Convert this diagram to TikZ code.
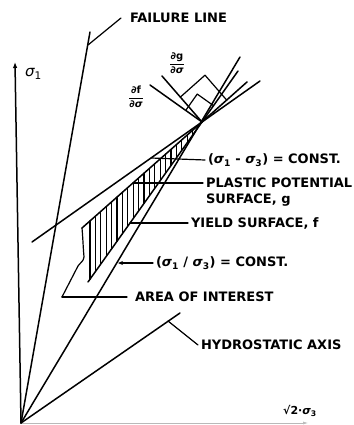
\documentclass[tikz,border=0pt]{standalone}
\usepackage{amsmath}
\usepackage{fontspec}
\setmainfont{DejaVu Sans}
\usetikzlibrary{calc,arrows.meta}
\newcommand{\sgm}{{\itshape σ}}

\begin{document}
\begin{tikzpicture}[x=1pt, y=-1pt, line cap=round, line join=round,
  curve/.style={line width=1.5pt},
  leader/.style={line width=1.2pt},
  hatch/.style={line width=1.2pt},
  lbltext/.style={font=\bfseries\fontsize{13}{15}\selectfont, anchor=west, inner sep=0pt, outer sep=3pt}]

  \useasboundingbox (0,0) rectangle (353,425);

  \coordinate (O) at (21,423);
  \coordinate (apex) at (202,122);

  % Axes
  \draw[curve, -{Latex[length=6pt,width=4.5pt]}] (O) -- (15,62) coordinate (s1top);
  \draw[gray!55, line width=0.6pt, -{Latex[length=5pt,width=3pt]}] (O) -- (308,423) coordinate (s3end);
  \node[font=\fontsize{15}{17}\selectfont, anchor=west, inner sep=0pt] (s1lbl) at (25,74) {\sgm\textsubscript{1}};
  \node[font=\bfseries\fontsize{11}{13}\selectfont, inner sep=0pt] (s3lbl) at (300,411) {√2·\sgm\textsubscript{3}};

  % Lines from origin
  \draw[curve] (O) -- (90,32) coordinate (ftop);
  \draw[curve] (O) -- (180,313) coordinate (htop);
  \draw[curve] (O) -- (240,57) coordinate (rtop);

  % (s1 - s3) line, yield surface f, plastic potential g
  \coordinate (dstart) at (32,242);
  \coordinate (fstart) at (88,282);
  \coordinate (gstart) at (82,228);
  \draw[curve] (dstart) -- (apex) -- (260,81) coordinate (dend);
  \draw[curve] (fstart) -- (apex) -- (238,71) coordinate (fend);
  \draw[curve] (gstart) -- (apex) -- (247,82) coordinate (gend);

  % Normals
  \coordinate (nf) at (150,85);
  \coordinate (ng) at (162,76);
  \draw[curve] (apex) -- (nf);
  \draw[curve] (apex) -- (ng);
  \coordinate (fa) at ($(apex)!20pt!(nf)$);
  \coordinate (fb) at ($(apex)!20pt!(fend)$);
  \coordinate (ga) at ($(apex)!33pt!(ng)$);
  \coordinate (gb) at ($(apex)!33pt!(gend)$);
  \draw[leader] (fa) -- ($(fa)+(fb)-(apex)$) -- (fb);
  \draw[leader] (ga) -- ($(ga)+(gb)-(apex)$) -- (gb);
  \node[font=\bfseries\fontsize{10}{11}\selectfont, inner sep=0pt] (dfds) at (136,97) {$\dfrac{\text{∂f}}{\text{∂\sgm}}$};
  \node[font=\bfseries\fontsize{10}{11}\selectfont, inner sep=0pt] (dgds) at (177,63) {$\dfrac{\text{∂g}}{\text{∂\sgm}}$};

  % Hatching between g and f
  \foreach \x in {90,95.4,...,193} {
    \draw[hatch] (\x,{122+(202-\x)*0.883}) -- (\x,{122+(202-\x)*1.404});
  }

  % Area of interest outline
  \coordinate (aoicorner) at (62,297);
  \draw[leader] (gstart) to[out=-85,in=95] (84,257) to[out=-95,in=55] (78,266)
    -- (aoicorner);

  % Labels
  \node[lbltext] (fail) at (127,18) {FAILURE LINE};
  \node[lbltext] (diff) at (205,160) {(\sgm\textsubscript{1} - \sgm\textsubscript{3}) = CONST.};
  \node[lbltext] (plast) at (203,183) {PLASTIC POTENTIAL};
  \node[lbltext] (surfg) at (203,200) {SURFACE, g};
  \node[lbltext] (yield) at (188,223) {YIELD SURFACE, f};
  \node[lbltext] (rat) at (153,263) {(\sgm\textsubscript{1} / \sgm\textsubscript{3}) = CONST.};
  \node[lbltext, outer sep=8pt] (aoi) at (127,297) {AREA OF INTEREST};
  \node[lbltext] (hyd) at (198,345) {HYDROSTATIC AXIS};

  % Leaders
  \coordinate (fpt) at (88,45);
  \coordinate (dpt) at (151,158);
  \coordinate (gpt) at (133,183);
  \coordinate (ypt) at (130,223);
  \coordinate (rpt) at (118,263);
  \coordinate (hpt) at (168,321);
  \draw[leader] (fpt) -- ([xshift=-6pt]fail.west);
  \draw[leader] (dpt) -- (diff.west);
  \draw[leader] (gpt) -- (plast.west);
  \draw[leader] (ypt) -- (yield.west);
  \draw[leader, {Stealth[length=5pt,width=4pt]}-] (rpt) -- (rat.west);
  \draw[leader] (aoicorner) -- (aoi.west);
  \draw[leader] (hpt) -- (hyd.west);
\end{tikzpicture}
\end{document}
